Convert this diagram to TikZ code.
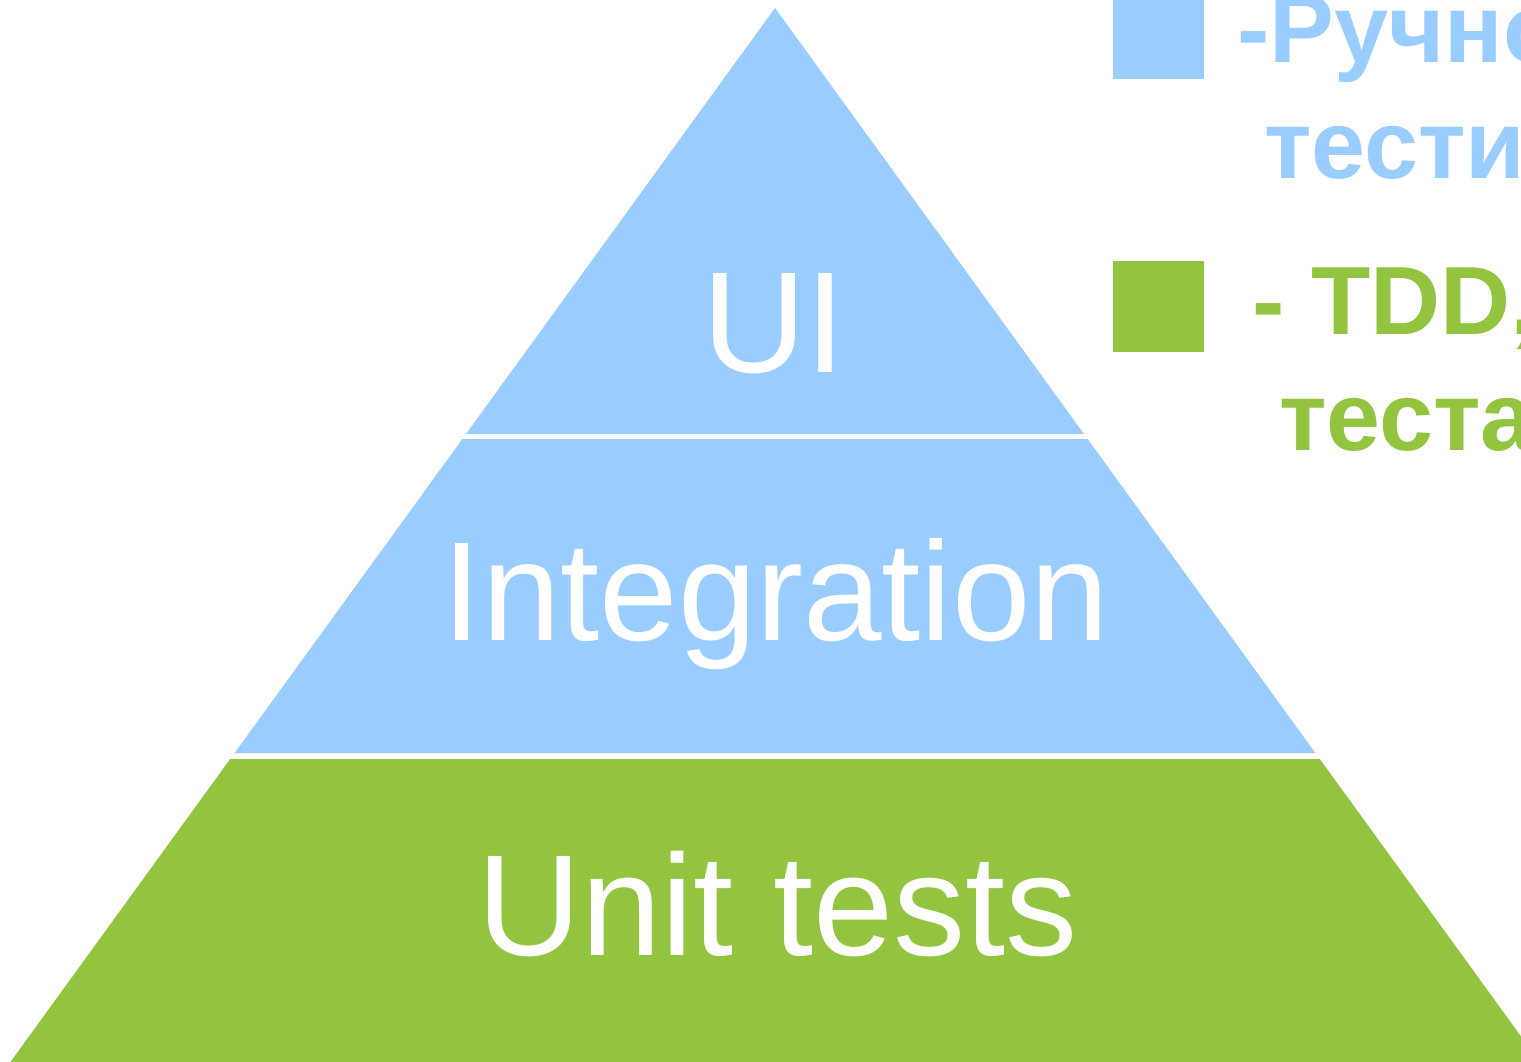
\documentclass[tikz,border=0pt]{standalone}
\usepackage{fontspec}
\setmainfont{Liberation Sans}
\definecolor{lblue}{HTML}{99CCFF}
\definecolor{lgreen}{HTML}{92C43F}
\tikzset{
  bigtxt/.style={text=white, inner sep=0pt, anchor=base, font=\fontsize{144}{150}\selectfont},
  legtxt/.style={inner sep=0pt, anchor=base west, font=\fontsize{97}{110}\selectfont\bfseries},
  legbox/.style={draw=none, minimum width=91pt, minimum height=91pt, inner sep=0pt, anchor=north west},
}
\begin{document}
\begin{tikzpicture}[x=1pt,y=-1pt]
\useasboundingbox (0,0) rectangle (1521,1061);
\clip (0,0) rectangle (1521,1061);
% pyramid bands
\fill[lblue] (775,8) -- (1084,434) -- (466,434) -- cycle;
\fill[lblue] (462.4,439) -- (1087.6,439) -- (1315.4,753) -- (234.6,753) -- cycle;
\fill[lgreen] (230.2,759) -- (1319.8,759) -- (1545.4,1070) -- (4.6,1070) -- cycle;
% labels
\node[bigtxt] (ui) at (774,372) {UI};
\node[bigtxt, font=\fontsize{141}{150}\selectfont] (integ) at (776,640) {Integration};
\node[bigtxt] (unit) at (778,955) {Unit tests};
% legend
\node[legbox, fill=lblue] (boxa) at (1113,-12) {};
\node[legbox, fill=lgreen] (boxb) at (1113,261) {};
\node[legtxt, text=lblue] (la1) at (1237,62) {-Ручное};
\node[legtxt, text=lblue] (la2) at (1264,178) {тестирование};
\node[legtxt, text=lgreen] (lb1) at (1252,334) {- TDD, юнит-тесты};
\node[legtxt, text=lgreen] (lb2) at (1279,450) {тестами};
\end{tikzpicture}
\end{document}
